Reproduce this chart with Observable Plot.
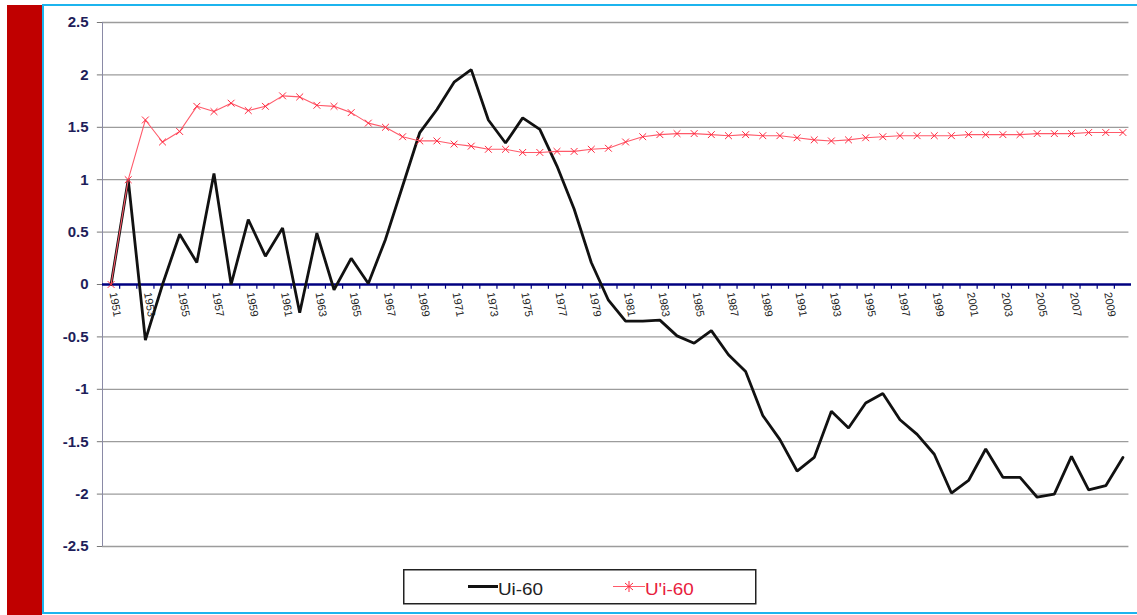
<!DOCTYPE html>
<html>
<head>
<meta charset="utf-8">
<script src="https://cdn.jsdelivr.net/npm/d3@7"></script>
<script src="https://cdn.jsdelivr.net/npm/@observablehq/plot@0.6"></script>
<style>
  html, body { margin: 0; padding: 0; background: #fff; }
  #wrap { position: relative; width: 1137px; height: 615px; overflow: hidden; background: #fff; font-family: "Liberation Sans", Arial, sans-serif; }
  #redbar { position: absolute; left: 7px; top: 5px; width: 35px; height: 610px; background: #c00000; }
  #btop { position: absolute; left: 42px; top: 4px; width: 1095px; height: 2px; background: #1cb4ee; }
  #bleft { position: absolute; left: 42px; top: 4px; width: 2px; height: 610px; background: #1cb4ee; }
  #bbot { position: absolute; left: 42px; top: 612px; width: 1095px; height: 2px; background: #1cb4ee; }
  #chart { position: absolute; left: 0; top: 0; }
  #legend { position: absolute; left: 403px; top: 569px; }
</style>
</head>
<body>
<div id="wrap">
  <div id="redbar"></div>
  <div id="btop"></div>
  <div id="bleft"></div>
  <div id="bbot"></div>
  <div id="chart"></div>
  <svg id="legend" width="354" height="36" xmlns="http://www.w3.org/2000/svg">
    <rect x="0.75" y="0.75" width="352" height="34" fill="#fff" stroke="#222" stroke-width="1.5"></rect>
    <line x1="65" x2="95" y1="17.5" y2="17.5" stroke="#111" stroke-width="3"></line>
    <text x="95" y="26" font-size="16" fill="#222" transform="translate(95,0) scale(1.18,1) translate(-95,0)" font-family="Liberation Sans, Arial, sans-serif">Ui-60</text>
    <line x1="210" x2="242" y1="17.5" y2="17.5" stroke="#ff5a6a" stroke-width="1"></line>
    <path d="M222,14 L230,21 M222,21 L230,14 M226,12 L226,23" stroke="#ff2a40" stroke-width="1" fill="none"></path>
    <text x="242" y="26" font-size="16" fill="#e8203c" transform="translate(242,0) scale(1.18,1) translate(-242,0)" font-family="Liberation Sans, Arial, sans-serif">U'i-60</text>
  </svg>
</div>
<script>
const years = [1951,1952,1953,1954,1955,1956,1957,1958,1959,1960,
  1961,1962,1963,1964,1965,1966,1967,1968,1969,1970,
  1971,1972,1973,1974,1975,1976,1977,1978,1979,1980,
  1981,1982,1983,1984,1985,1986,1987,1988,1989,1990,
  1991,1992,1993,1994,1995,1996,1997,1998,1999,2000,
  2001,2002,2003,2004,2005,2006,2007,2008,2009,2010];

const ui60 = [0,1.0,-0.53,0.0,0.48,0.21,1.06,0.0,0.62,0.27,
  0.54,-0.27,0.49,-0.05,0.25,0.01,0.43,0.94,1.45,1.67,
  1.93,2.05,1.57,1.35,1.59,1.48,1.13,0.72,0.21,-0.15,
  -0.35,-0.35,-0.34,-0.49,-0.56,-0.44,-0.67,-0.83,-1.25,-1.48,
  -1.78,-1.65,-1.21,-1.37,-1.13,-1.04,-1.29,-1.43,-1.62,-1.99,
  -1.87,-1.57,-1.84,-1.84,-2.03,-2.0,-1.64,-1.96,-1.92,-1.65];

const upi60 = [0,1.0,1.57,1.36,1.46,1.70,1.65,1.73,1.66,1.70,
  1.80,1.79,1.71,1.70,1.64,1.54,1.50,1.41,1.37,1.37,
  1.34,1.32,1.29,1.29,1.26,1.26,1.27,1.27,1.29,1.30,
  1.36,1.41,1.43,1.44,1.44,1.43,1.42,1.43,1.42,1.42,
  1.40,1.38,1.37,1.38,1.40,1.41,1.42,1.42,1.42,1.42,
  1.43,1.43,1.43,1.43,1.44,1.44,1.44,1.45,1.45,1.45];

const xTickLabels = [1951,1953,1955,1957,1959,1961,1963,1965,1967,1969,
  1971,1973,1975,1977,1979,1981,1983,1985,1987,1989,
  1991,1993,1995,1997,1999,2001,2003,2005,2007,2009];

const yTicks = [-2.5,-2,-1.5,-1,-0.5,0,0.5,1,1.5,2,2.5];

const data = years.map((year, i) => ({year, ui: ui60[i], upi: upi60[i]}));
const bounds = years.map(y => y + 0.5).slice(0, -1);

const chart = Plot.plot({
  width: 1137,
  height: 560,
  marginLeft: 102,
  marginRight: 6,
  marginTop: 22,
  marginBottom: 14,
  x: {domain: [1950.5, 2010.5], axis: null},
  y: {domain: [-2.5, 2.5], axis: null},
  style: {background: "transparent", fontFamily: "'Liberation Sans', Arial, sans-serif", overflow: "visible"},
  marks: [
    Plot.ruleY(yTicks.filter(d => d !== 0), {y: d => d, x1: 1950.5, x2: 2010.35, stroke: "#9c9c9c", strokeWidth: 1.3}),
    Plot.ruleX([1950.5], {y1: -2.5, y2: 2.5, stroke: "#8a8aa6", strokeWidth: 1}),
    Plot.ruleY(yTicks, {y: d => d, x1: 1950.2, x2: 1950.5, stroke: "#777", strokeWidth: 1}),
    Plot.text(yTicks, {x: 1950.5, y: d => d, text: d => String(d), textAnchor: "end", dx: -14, fontWeight: "bold", fontSize: 15, fill: "#1e1e5a", letterSpacing: "0.5px"}),
    Plot.ruleX(bounds, {x: d => d, y1: 0, y2: -0.045, stroke: "#000080", strokeWidth: 1.2}),
    Plot.ruleY([0], {x1: 1950.5, x2: 2010.5, stroke: "#000080", strokeWidth: 2.6}),
    Plot.text(xTickLabels, {x: d => d, y: 0, text: d => String(d), rotate: 80, textAnchor: "start", dy: 8, dx: 2, fontSize: 11, fill: "#222", letterSpacing: "0.5px"}),
    Plot.line(data, {x: "year", y: "ui", stroke: "#111", strokeWidth: 2.8, strokeLinejoin: "miter"}),
    Plot.line(data, {x: "year", y: "upi", stroke: "#ff5a6a", strokeWidth: 1.1}),
    Plot.dot(data, {x: "year", y: "upi", symbol: "times", r: 3.2, stroke: "#ff2a40", strokeWidth: 1})
  ]
});
document.getElementById("chart").appendChild(chart);
</script>
</body>
</html>
